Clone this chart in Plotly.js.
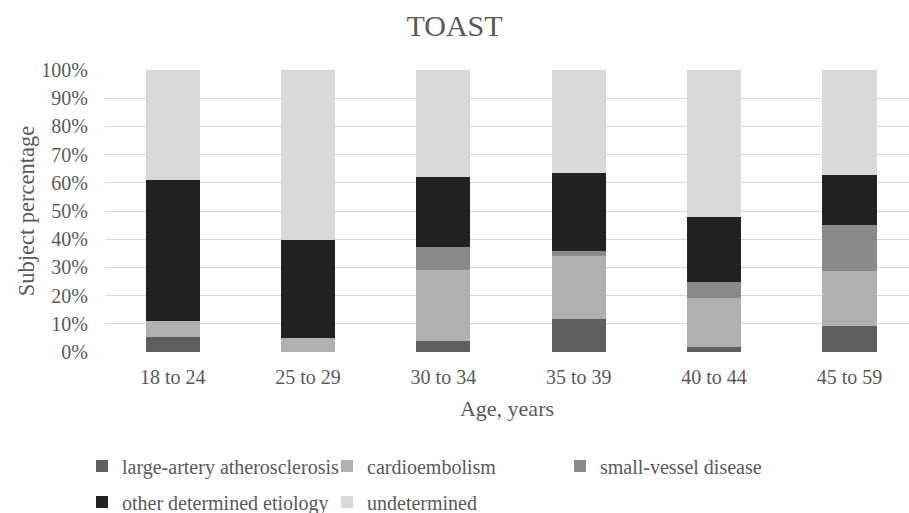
<!DOCTYPE html>
<html>
<head>
<meta charset="utf-8">
<script src="https://cdn.plot.ly/plotly-3.0.1.min.js"></script>
<style>html,body{margin:0;padding:0;background:#fff;overflow:hidden}</style>
</head>
<body>
<div id="chart" style="width:909px;height:513px"></div>
<script>
const categories = ["18 to 24", "25 to 29", "30 to 34", "35 to 39", "40 to 44", "45 to 59"];
const largeArtery = [5.4, 0, 3.8, 11.8, 1.8, 9.2];
const cardioembolism = [5.5, 4.8, 25.2, 22.1, 17.2, 19.5];
const smallVessel = [0, 0, 8.4, 1.9, 5.9, 16.4];
const otherDetermined = [50.2, 35.0, 24.8, 27.8, 22.9, 17.6];
const undetermined = [38.9, 60.2, 37.8, 36.4, 52.2, 37.3];
const seriesNames = ["large-artery atherosclerosis", "cardioembolism", "small-vessel disease", "other determined etiology", "undetermined"];
const seriesColors = ["#5f5f5f", "#b1b1b1", "#8a8a8a", "#222222", "#d9d9d9"];
const seriesValues = [largeArtery, cardioembolism, smallVessel, otherDetermined, undetermined];
const legendGroupOf = ["legend", "legend", "legend2", "legend3", "legend3"];

const font = "Liberation Serif, Times New Roman, serif";
const textColor = "#595959";

const traces = seriesValues.map((vals, i) => ({
  type: "bar",
  name: seriesNames[i],
  x: categories,
  y: vals,
  legend: legendGroupOf[i],
  marker: {color: seriesColors[i], line: {width: 0}},
  hoverinfo: "skip"
}));

const legendCommon = {
  orientation: "h",
  xref: "container", yref: "container",
  xanchor: "left", yanchor: "middle",
  entrywidth: 200,
  entrywidthmode: "pixels",
  traceorder: "normal",
  font: {family: font, size: 20, color: textColor},
  itemclick: false,
  itemdoubleclick: false
};

const layout = {
  width: 909,
  height: 513,
  margin: {l: 105, r: 0, t: 70, b: 161, autoexpand: false},
  paper_bgcolor: "#ffffff",
  plot_bgcolor: "#ffffff",
  barmode: "stack",
  bargap: 0.6,
  font: {family: font, color: textColor, size: 20},
  title: {
    text: "TOAST",
    font: {family: font, size: 30, color: textColor},
    x: 0.5, xref: "container", xanchor: "center",
    y: 0.951, yref: "container", yanchor: "middle"
  },
  xaxis: {
    type: "category",
    range: [-0.5, 5.44],
    showgrid: false,
    showline: false,
    zeroline: false,
    ticks: "",
    tickfont: {family: font, size: 20, color: textColor},
    ticklabelstandoff: 11,
    title: {text: "Age, years", font: {family: font, size: 22, color: textColor}, standoff: 13}
  },
  yaxis: {
    range: [0, 100],
    dtick: 10,
    ticksuffix: "%",
    showgrid: true,
    gridcolor: "#d9d9d9",
    gridwidth: 1,
    zeroline: false,
    showline: false,
    ticks: "",
    tickfont: {family: font, size: 20, color: textColor},
    ticklabelstandoff: 16,
    title: {text: "Subject percentage", font: {family: font, size: 22.5, color: textColor}, standoff: 0}
  },
  showlegend: true,
  legend: Object.assign({}, legendCommon, {x: 82 / 909, y: 1 - 466 / 513}),
  legend2: Object.assign({}, legendCommon, {x: 560 / 909, y: 1 - 466 / 513}),
  legend3: Object.assign({}, legendCommon, {x: 82 / 909, y: 1 - 502 / 513})
};

Plotly.newPlot("chart", traces, layout, {displayModeBar: false, staticPlot: true});
</script>
</body>
</html>
